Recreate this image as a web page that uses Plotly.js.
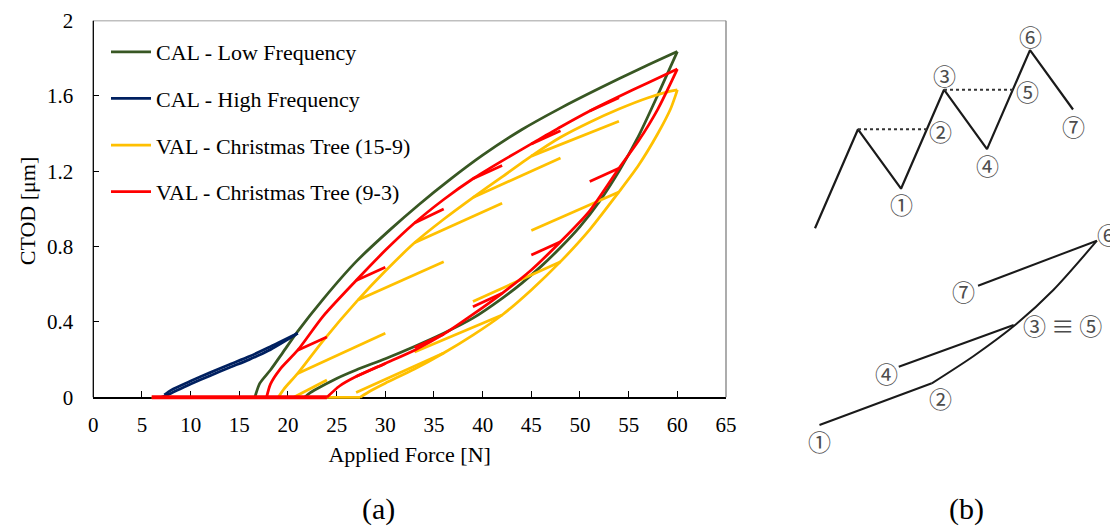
<!DOCTYPE html>
<html><head><meta charset="utf-8">
<script src="https://cdn.plot.ly/plotly-3.0.1.min.js"></script>
<style>html,body{margin:0;padding:0;background:#fff;}#chart{width:1110px;height:526px;}</style>
</head><body><div id="chart"></div>
<script>
// ---------- (a) CTOD vs applied force ----------
// CAL - Low Frequency
const calLowUpF = [16.6, 17.1, 18.2, 19.5, 21, 23.6, 27, 30.5, 33.5, 36.5, 40, 44, 48, 52, 56, 60];
const calLowUpC = [0, 0.074, 0.145, 0.24, 0.35, 0.52, 0.72, 0.89, 1.025, 1.15, 1.285, 1.42, 1.535, 1.64, 1.74, 1.835];
const calLowDnF = [60, 58, 56, 54, 52, 50, 48, 46, 44, 42, 39, 36, 33, 30, 27, 25, 23.5, 22.3, 21.7];
const calLowDnC = [1.835, 1.605, 1.385, 1.20, 1.04, 0.906, 0.795, 0.695, 0.605, 0.525, 0.42, 0.34, 0.27, 0.205, 0.145, 0.10, 0.06, 0.025, 0];
const calLowZeroF = [21.7, 16.6];
const calLowZeroC = [0, 0];
// CAL - High Frequency
const calHighLoadF = [7.0, 8, 10, 12, 14, 16, 18, 21];
const calHighLoadC = [0, 0.022, 0.07, 0.115, 0.158, 0.2, 0.248, 0.34];
const calHighUnF = [21, 18, 16, 14, 12, 10, 8, 7.3];
const calHighUnC = [0.34, 0.264, 0.216, 0.174, 0.131, 0.086, 0.038, 0.013];
// VAL - Christmas Tree (15-9)
const ct159UpF = [19, 19.6, 21, 23.6, 27.2, 30, 33, 36, 39, 42, 45, 48, 51, 54, 57, 59.3, 60];
const ct159UpC = [0, 0.045, 0.127, 0.30, 0.517, 0.67, 0.82, 0.945, 1.06, 1.17, 1.28, 1.38, 1.46, 1.53, 1.59, 1.625, 1.632];
const ct159DnF = [60, 59.8, 59.3, 58, 56, 54, 51, 48, 45, 42, 39, 36, 33, 30, 28.5, 27.4];
const ct159DnC = [1.632, 1.6, 1.53, 1.40, 1.23, 1.09, 0.89, 0.72, 0.57, 0.437, 0.33, 0.235, 0.15, 0.075, 0.035, 0];
const ct159ZeroF = [6, 27.4];
const ct159ZeroC = [0, 0];
const ct159BrA_F = [21, 27.2, 33, 39, 45, 20.6, 54, 48, 42, 36];
const ct159BrA_C = [0.127, 0.517, 0.82, 1.06, 1.28, 0, 1.09, 0.72, 0.437, 0.235];
const ct159BrB_F = [30, 36, 42, 48, 54, 24, 45, 39, 33, 27];
const ct159BrB_C = [0.34, 0.72, 1.03, 1.27, 1.465, 0.092, 0.885, 0.508, 0.24, 0.025];
// VAL - Christmas Tree (9-3)
const ct93UpF = [17.8, 18.2, 19.2, 21, 23.6, 27, 30, 33, 36, 39, 42, 45, 48, 51, 54, 57, 60];
const ct93UpC = [0, 0.07, 0.15, 0.25, 0.43, 0.62, 0.78, 0.925, 1.05, 1.16, 1.255, 1.345, 1.435, 1.52, 1.597, 1.67, 1.742];
const ct93DnF = [60, 58, 56, 54, 51, 48, 45, 42, 39, 36, 33, 30, 27, 25.3, 24];
const ct93DnC = [1.742, 1.53, 1.36, 1.216, 0.99, 0.826, 0.676, 0.552, 0.44, 0.335, 0.25, 0.18, 0.11, 0.06, 0];
const ct93ZeroF = [6, 24];
const ct93ZeroC = [0, 0];
const ct93BrA_F = [21, 27, 33, 39, 45, 51, 54, 48, 42, 36, 30];
const ct93BrA_C = [0.25, 0.62, 0.925, 1.16, 1.345, 1.52, 1.216, 0.826, 0.552, 0.335, 0.18];
const ct93BrB_F = [24, 30, 36, 42, 48, 54, 51, 45, 39, 33, 27];
const ct93BrB_C = [0.32, 0.69, 1.0, 1.23, 1.415, 1.59, 1.145, 0.755, 0.48, 0.265, 0.11];

const xTickVals = [0,5,10,15,20,25,30,35,40,45,50,55,60,65];
const yTickVals = [0,0.4,0.8,1.2,1.6,2];
const yTickText = ['0','0.4','0.8','1.2','1.6','2'];

// ---------- (b) schematic ----------
const treeTime = [0, 1, 2, 3, 4, 5, 6];
const treeLoad = [0, 15, 6, 21, 12, 27, 18];
const dot1Time = [1, 2.6], dot1Load = [15, 15];
const dot2Time = [3, 4.6], dot2Load = [21, 21];
const schemLoadF = [6.1, 14.6];
const schemLoadC = [2.5, 6.67];
const schemEnvF = [14.6, 17.8, 21.0, 23.8, 27.1];
const schemEnvC = [6.67, 9.43, 12.6, 16.0, 20.93];
const schemReF = [12.1, 20.8], schemReC = [8.33, 12.5];
const schemUnF = [18.1, 27.1], schemUnC = [16.43, 20.93];

const GREEN = '#385723', BLUE = '#002060', YELLOW = '#FFC000', RED = '#FF0000';
const LW = 2.75;

function pairs(aF, aC, bF, bC) {
  const x = [], y = [];
  for (let i = 0; i < aF.length; i++) { x.push(aF[i], bF[i], null); y.push(aC[i], bC[i], null); }
  return {x, y};
}
function tr(x, y, color, extra) {
  return Object.assign({type:'scatter', mode:'lines', x:x, y:y, xaxis:'x', yaxis:'y',
    line:{color:color, width:LW}, hoverinfo:'skip', showlegend:false, connectgaps:false}, extra || {});
}
function spl(color) { return {color:color, width:LW, shape:'spline', smoothing:0.7}; }

const b159 = pairs(ct159BrA_F, ct159BrA_C, ct159BrB_F, ct159BrB_C);
const b93 = pairs(ct93BrA_F, ct93BrA_C, ct93BrB_F, ct93BrB_C);

const traces = [
  tr(calLowUpF, calLowUpC, GREEN, {name:'CAL - Low Frequency', showlegend:true, legendgroup:'g', line:spl(GREEN)}),
  tr(calLowDnF, calLowDnC, GREEN, {legendgroup:'g', line:spl(GREEN)}),
  tr(calLowZeroF, calLowZeroC, GREEN, {legendgroup:'g'}),
  tr(calHighLoadF, calHighLoadC, BLUE, {name:'CAL - High Frequency', showlegend:true, legendgroup:'b', line:spl(BLUE)}),
  tr(calHighUnF, calHighUnC, BLUE, {legendgroup:'b', line:spl(BLUE)}),
  tr(ct159ZeroF, ct159ZeroC, YELLOW, {name:'VAL - Christmas Tree (15-9)', showlegend:true, legendgroup:'y'}),
  tr(ct159UpF, ct159UpC, YELLOW, {legendgroup:'y', line:spl(YELLOW)}),
  tr(ct159DnF, ct159DnC, YELLOW, {legendgroup:'y', line:spl(YELLOW)}),
  tr(b159.x, b159.y, YELLOW, {legendgroup:'y'}),
  tr(ct93UpF, ct93UpC, RED, {name:'VAL - Christmas Tree (9-3)', showlegend:true, legendgroup:'r', line:spl(RED)}),
  tr(ct93DnF, ct93DnC, RED, {legendgroup:'r', line:spl(RED)}),
  tr(b93.x, b93.y, RED, {legendgroup:'r'}),
  tr(ct93ZeroF, ct93ZeroC, RED, {legendgroup:'r', line:{color:RED, width:4}}),
  // (b) top: load sequence
  {type:'scatter', mode:'lines', x:treeTime, y:treeLoad, xaxis:'x2', yaxis:'y2', line:{color:'#1a1a1a', width:2.2}, hoverinfo:'skip', showlegend:false},
  {type:'scatter', mode:'lines', x:dot1Time, y:dot1Load, xaxis:'x2', yaxis:'y2', line:{color:'#333', width:2, dash:'dot'}, hoverinfo:'skip', showlegend:false},
  {type:'scatter', mode:'lines', x:dot2Time, y:dot2Load, xaxis:'x2', yaxis:'y2', line:{color:'#333', width:2, dash:'dot'}, hoverinfo:'skip', showlegend:false},
  // (b) bottom: response
  {type:'scatter', mode:'lines', x:schemLoadF, y:schemLoadC, xaxis:'x3', yaxis:'y3', line:{color:'#1a1a1a', width:2}, hoverinfo:'skip', showlegend:false},
  {type:'scatter', mode:'lines', x:schemEnvF, y:schemEnvC, xaxis:'x3', yaxis:'y3', line:{color:'#1a1a1a', width:2, shape:'spline', smoothing:0.8}, hoverinfo:'skip', showlegend:false},
  {type:'scatter', mode:'lines', x:schemReF, y:schemReC, xaxis:'x3', yaxis:'y3', line:{color:'#1a1a1a', width:2}, hoverinfo:'skip', showlegend:false},
  {type:'scatter', mode:'lines', x:schemUnF, y:schemUnC, xaxis:'x3', yaxis:'y3', line:{color:'#1a1a1a', width:2}, hoverinfo:'skip', showlegend:false}
];

const SERIF = 'Liberation Serif, Times New Roman, serif';
const CJK = 'Noto Sans CJK JP, Noto Sans CJK SC, DejaVu Sans, sans-serif';
const circ = {family:CJK, size:23, color:'#4d4d4d'};
function lab(text, xr, yr, x, y, xs, ys, xanchor) {
  return {text:text, xref:xr, yref:yr, x:x, y:y, xshift:xs, yshift:ys, showarrow:false, font:circ, xanchor:xanchor||'center', yanchor:'middle'};
}

const yBot = 1 - 401.45/526, yTop = 1 - 20.5/526;
const layout = {
  width:1110, height:526, margin:{l:0, r:0, t:0, b:0},
  paper_bgcolor:'#ffffff', plot_bgcolor:'#ffffff',
  font:{family:SERIF, color:'#000', size:21},
  showlegend:true,
  legend:{x:106/1110, y:1-31/526, xanchor:'left', yanchor:'top', bgcolor:'rgba(0,0,0,0)', borderwidth:0,
          font:{family:SERIF, size:22, color:'#000'}, traceorder:'grouped', tracegroupgap:15, itemwidth:40},
  xaxis:{domain:[93.3/1110, 726/1110], range:[0,65], tickvals:xTickVals, ticks:'inside', ticklen:6, tickwidth:1, tickcolor:'#000',
         showline:true, linecolor:'#000', linewidth:1.3, showgrid:false, zeroline:false, anchor:'free', position:1-397.3/526,
         layer:'below traces', tickfont:{size:21}, ticklabelstandoff:8,
         title:{text:'Applied Force [N]', font:{size:22}, standoff:10}, fixedrange:true},
  yaxis:{domain:[yBot, yTop], range:[-0.022, 2], tickvals:yTickVals, ticktext:yTickText, ticks:'inside', ticklen:6, tickwidth:1, tickcolor:'#000',
         showline:false, showgrid:false, zeroline:false, anchor:'x', layer:'below traces', tickfont:{size:21}, ticklabelstandoff:19,
         title:{text:'CTOD [μm]', font:{size:22}, standoff:5}, fixedrange:true},
  xaxis2:{domain:[780/1110, 1], range:[-0.814, 6.860], visible:false, anchor:'y2', fixedrange:true},
  yaxis2:{domain:[1-232/526, 1], range:[-0.56, 34.59], visible:false, anchor:'x2', fixedrange:true},
  xaxis3:{domain:[780/1110, 1], range:[3.11, 28.09], visible:false, anchor:'y3', fixedrange:true},
  yaxis3:{domain:[1-470/526, 1-232/526], range:[-2, 21.8], visible:false, anchor:'x3', fixedrange:true},
  shapes:[
    {type:'line', xref:'x domain', yref:'y', x0:0, x1:1, y0:2, y1:2, line:{color:'#808080', width:1.3}},
    {type:'line', xref:'x domain', yref:'y', x0:1, x1:1, y0:0, y1:2, line:{color:'#808080', width:1.3}},
    {type:'line', xref:'x domain', yref:'y', x0:0, x1:0, y0:0, y1:2, line:{color:'#000', width:1.3}}
  ],
  annotations:[
    {text:'(a)', xref:'paper', yref:'paper', x:378/1110, y:1-509/526, showarrow:false, font:{family:SERIF, size:30, color:'#000'}, xanchor:'center', yanchor:'middle'},
    {text:'(b)', xref:'paper', yref:'paper', x:966/1110, y:1-509/526, showarrow:false, font:{family:SERIF, size:30, color:'#000'}, xanchor:'center', yanchor:'middle'},
    lab('①','x2','y2', 2, 6, 0, -15),
    lab('②','x2','y2', 2.6, 15, 14, -2),
    lab('③','x2','y2', 3, 21, 0, 15),
    lab('④','x2','y2', 4, 12, 0, -16),
    lab('⑤','x2','y2', 4.6, 21, 15, -1),
    lab('⑥','x2','y2', 5, 27, 0, 14),
    lab('⑦','x2','y2', 6, 18, 0, -16),
    lab('①','x3','y3', 6.1, 2.5, 0, -16),
    lab('②','x3','y3', 14.6, 6.67, 9, -15),
    lab('③ ≡ ⑤','x3','y3', 21.0, 12.6, 5, -1, 'left'),
    lab('④','x3','y3', 12.1, 8.33, -12, -6),
    lab('⑦','x3','y3', 18.1, 16.43, -15, -5),
    lab('⑥','x3','y3', 27.1, 20.93, 12, 7)
  ]
};

Plotly.newPlot('chart', traces, layout, {displayModeBar:false, staticPlot:true});
</script></body></html>
